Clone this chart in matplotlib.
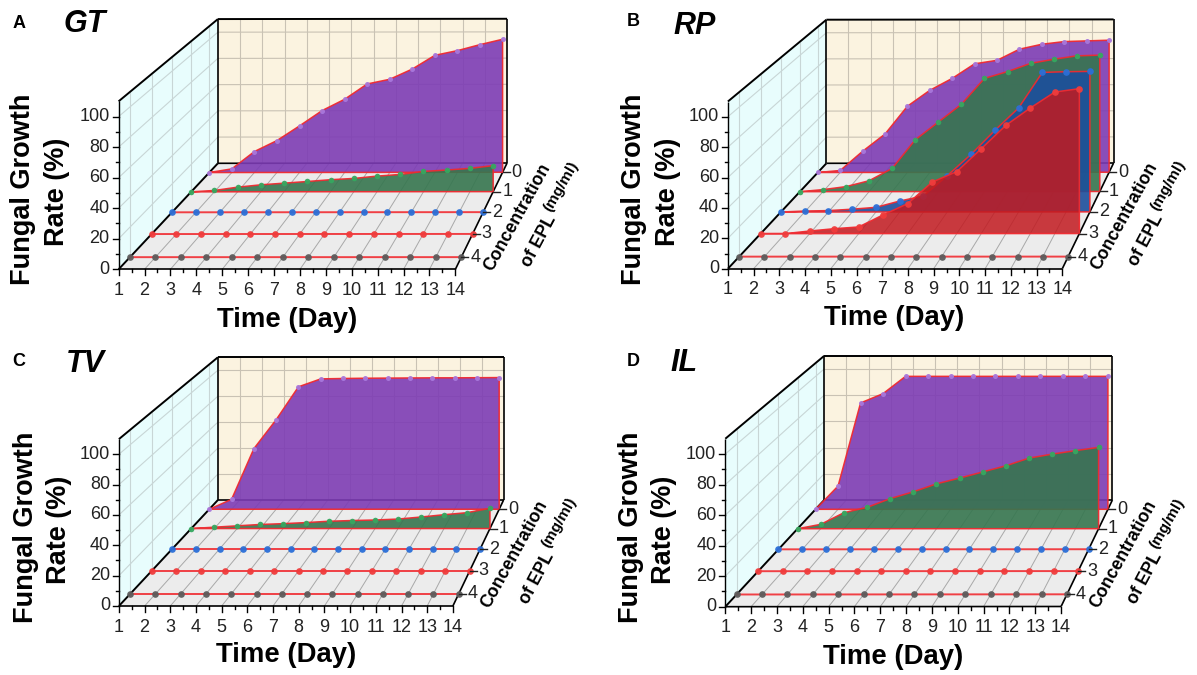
import numpy as np
import matplotlib
matplotlib.use("Agg")
import matplotlib.pyplot as plt

plt.rcParams['font.family'] = ['Liberation Sans', 'DejaVu Sans']

DAYS = list(range(1, 15))
VALUE_TICKS = [0, 20, 40, 60, 80, 100]
CONCS = [0, 1, 2, 3, 4]
ZERO = [0] * 14

GT_0 = [0, 2.75, 15.75, 24, 35, 46.5, 55, 66.5, 70, 77.7, 88, 91.5, 96, 100]
GT_1 = [0, 1, 3.4, 5.1, 6.3, 7.5, 8.8, 9.7, 11.4, 12.6, 14.8, 15.8, 17, 19]
RP_0 = [0, 1.5, 16, 29, 50, 62, 71, 82, 84.6, 93, 96.7, 98.7, 99.2, 99.7]
RP_1 = [0, 1.5, 3.7, 8, 17, 38, 51, 64, 83, 88, 94, 97, 99.5, 100]
RP_2 = [0, 0.7, 1, 2, 3.3, 7.8, 11.4, 25.8, 41, 58, 74, 99.3, 99.8, 100]
RP_3 = [0, 0, 1.8, 3.4, 4.6, 13, 20.7, 35.6, 42.8, 58.6, 74.7, 86.7, 97.7, 100]
TV_0 = [0, 7.5, 46, 68, 93, 99, 99.3, 99.5, 99.6, 99.7, 99.8, 99.8, 99.9, 100]
TV_1 = [0, 1, 2, 3, 3.6, 4.4, 5.4, 5.9, 6.3, 7, 8.5, 10.2, 11.7, 14.9]
IL_0 = [0, 17.5, 80, 87, 100, 100, 100, 100, 100, 100, 100, 100, 100, 100]
IL_1 = [0, 3.2, 11.7, 15.6, 22, 27, 32.8, 37, 41.5, 46, 51.6, 54.5, 57, 59.4]

FILLS = ['#7d3cb5', '#36764f', '#1c4f9c', '#c21a20', '#555555']
FILL_ALPHA = [0.9, 0.9, 0.9, 0.85, 0.9]
DOTS = ['#a878dc', '#35a860', '#2a6fd8', '#f03c3c', '#5c5c5c']
DOT_SIZE = [3.6, 4.0, 4.8, 4.8, 4.8]

PANELS = [
    dict(letter='A', title='GT', rows=[GT_0, GT_1, ZERO, ZERO, ZERO],
         fl=(118.6, 269.3), fr=(455.4, 269.3), bl=(217.9, 163.3), br=(507.1, 163.0), unit=1.527,
         letter_at=(19, 23), title_at=(85, 24), yl=(23, 57, 189), xl=(287.5, 320)),
    dict(letter='B', title='RP', rows=[RP_0, RP_1, RP_2, RP_3, ZERO],
         fl=(727.9, 268.7), fr=(1062.3, 268.7), bl=(826.4, 163.3), br=(1113.6, 163.0), unit=1.52,
         letter_at=(633, 22), title_at=(695, 26), yl=(634, 668, 189), xl=(894.5, 318)),
    dict(letter='C', title='TV', rows=[TV_0, TV_1, ZERO, ZERO, ZERO],
         fl=(118.9, 606), fr=(452.9, 606), bl=(217.9, 500), br=(503.6, 500), unit=1.517,
         letter_at=(19, 362), title_at=(85, 364), yl=(26, 59, 527), xl=(286, 655)),
    dict(letter='D', title='IL', rows=[IL_0, IL_1, ZERO, ZERO, ZERO],
         fl=(725.3, 606.7), fr=(1061.1, 606.5), bl=(824.2, 500), br=(1112.4, 500), unit=1.527,
         letter_at=(633, 362), title_at=(684, 363), yl=(631, 664, 527), xl=(893, 657)),
]

TOP = 110
K = 0.163

fig = plt.figure(figsize=(11.97, 6.75), dpi=100)
ax = fig.add_axes([0, 0, 1, 1])
ax.set_xlim(0, 1197)
ax.set_ylim(675, 0)
ax.axis('off')


def make_projection(p):
    fl, fr, bl, br, unit = [np.array(p[k], float) for k in ('fl', 'fr', 'bl', 'br', 'unit')]
    shrink = (br[0] - bl[0]) / (fr[0] - fl[0])

    def proj(day, conc, value):
        t = (4.5 - np.asarray(conc, float)) / 5.0
        f = t * (1 + K) / (1 + K * t)
        left = fl + (bl - fl) * f[..., None]
        right = fr + (br - fr) * f[..., None]
        u = (np.asarray(day, float) - 1) / 13.0
        x = left[..., 0] + (right[..., 0] - left[..., 0]) * u
        y = left[..., 1] + (right[..., 1] - left[..., 1]) * u
        y = y - np.asarray(value, float) * unit * (1 - f * (1 - shrink))
        return x, y
    return proj


def seg(proj, a, b, **kw):
    xa, ya = proj(*a)
    xb, yb = proj(*b)
    ax.plot([xa, xb], [ya, yb], solid_capstyle='butt', zorder=2, **kw)


def quad(proj, pts, **kw):
    xy = [proj(*q) for q in pts]
    ax.fill([c[0] for c in xy], [c[1] for c in xy], zorder=2, **kw)


for p in PANELS:
    P = make_projection(p)
    D0, D1 = DAYS[0], DAYS[-1]
    CB, CF = -0.5, 4.5

    quad(P, [(D0, CB, 0), (D1, CB, 0), (D1, CB, TOP), (D0, CB, TOP)], fc='#fbf3e0', ec='none')
    quad(P, [(D0, CF, 0), (D0, CB, 0), (D0, CB, TOP), (D0, CF, TOP)], fc='#e8fdfd', ec='none')
    quad(P, [(D0, CF, 0), (D1, CF, 0), (D1, CB, 0), (D0, CB, 0)], fc='#ececec', ec='none')

    for d in DAYS[1:-1]:
        seg(P, (d, CB, 0), (d, CB, TOP), color='#c9c2b4', lw=0.8)
    for d in DAYS[1:-1]:
        seg(P, (d, CF, 0), (d, CB, 0), color='#a8a8a8', lw=0.7)
    for v in VALUE_TICKS[1:]:
        seg(P, (D0, CB, v), (D1, CB, v), color='#c9c2b4', lw=0.8)
        seg(P, (D0, CF, v), (D0, CB, v), color='#c8d6d6', lw=0.8)
    for c in CONCS:
        seg(P, (D0, c, 0), (D0, c, TOP), color='#c8d6d6', lw=0.8)

    black = dict(color='black')
    seg(P, (D0, CF, 0), (D0, CF, TOP), lw=1.0, **black)
    seg(P, (D0, CF, TOP), (D0, CB, TOP), lw=1.4, **black)
    seg(P, (D0, CB, TOP), (D1, CB, TOP), lw=1.4, **black)
    seg(P, (D1, CB, 0), (D1, CB, TOP), lw=1.2, **black)
    seg(P, (D0, CB, 0), (D0, CB, TOP), lw=1.2, **black)
    seg(P, (D0, CF, 0), (D0, CB, 0), lw=1.4, **black)
    seg(P, (D0, CB, 0), (D1, CB, 0), lw=1.2, **black)
    seg(P, (D0, CF, 0), (D1, CF, 0), lw=1.2, **black)
    seg(P, (D1, CF, 0), (D1, CB, 0), lw=1.2, **black)

    for c, vals in zip(CONCS, p['rows']):
        xs, ys = P(DAYS, [c] * 14, vals)
        xb, yb = P(DAYS, [c] * 14, ZERO)
        if max(vals) > 0:
            ax.fill(np.r_[xs, xb[::-1]], np.r_[ys, yb[::-1]], fc=FILLS[c], alpha=FILL_ALPHA[c],
                    ec='none', zorder=2)
            ax.plot(np.r_[xs, xb[-1], xb[0]], np.r_[ys, yb[-1], yb[0]],
                    color='#f02a30', lw=1.1, alpha=0.95, solid_joinstyle='miter', zorder=2)
        else:
            ax.plot(xs, ys, color='#f04045', lw=1.4, zorder=2)
        ax.plot(xs, ys, ls='none', marker='o', ms=DOT_SIZE[c], mfc=DOTS[c], mec='none',
                alpha=0.95, zorder=2)

    # value axis
    for v in range(0, 101, 10):
        x0, y0 = P(D0, CF, v)
        ln = 6 if v % 20 == 0 else 3
        ax.plot([x0 - ln, x0], [y0, y0], color='black', lw=1.0)
    for v in VALUE_TICKS:
        x0, y0 = P(D0, CF, v)
        ax.text(x0 - 9, y0, str(v), ha='right', va='center', fontsize=13, color='#222222')

    # day axis
    for d in DAYS:
        x0, y0 = P(d, CF, 0)
        ax.plot([x0, x0], [y0, y0 + 6], color='black', lw=1.0)
        if d < D1:
            xm, _ = P(d + 0.5, CF, 0)
            ax.plot([xm, xm], [y0, y0 + 3], color='black', lw=1.0)
        ax.text(x0, y0 + 21, str(d), ha='center', va='center', fontsize=13, color='#222222')

    # concentration axis
    for c in CONCS:
        x0, y0 = P(D1, c, 0)
        ax.plot([x0, x0 + 7], [y0, y0], color='#222222', lw=1.0)
        ax.text(x0 + 14, y0, str(c), ha='center', va='center', fontsize=13, color='#222222')

    rx, ry = p['fr']
    ax.text(rx + 62, ry - 52, 'Concentration', rotation=61, rotation_mode='anchor',
            ha='center', va='center', fontsize=12.7, fontweight='bold')
    ax.text(rx + 84, ry - 28, 'of EPL', rotation=62, rotation_mode='anchor',
            ha='center', va='center', fontsize=12.7, fontweight='bold')
    ax.text(rx + 106, ry - 83, '(mg/ml)', rotation=60, rotation_mode='anchor',
            ha='center', va='center', fontsize=11, fontweight='bold')

    yl0, yl1, ylc = p['yl']
    ax.text(yl0, ylc, 'Fungal Growth', rotation=90, ha='center', va='center',
            fontsize=19.5, fontweight='bold')
    ax.text(yl1, ylc + 3, 'Rate (%)', rotation=90, ha='center', va='center',
            fontsize=19.5, fontweight='bold')
    ax.text(*p['xl'], 'Time (Day)', ha='center', va='center', fontsize=19.8, fontweight='bold')
    ax.text(*p['letter_at'], p['letter'], ha='center', va='center', fontsize=13, fontweight='bold')
    ax.text(*p['title_at'], p['title'], ha='center', va='center', fontsize=22,
            fontweight='bold', fontstyle='italic')

fig.savefig('out.png', dpi=100, facecolor='white')
